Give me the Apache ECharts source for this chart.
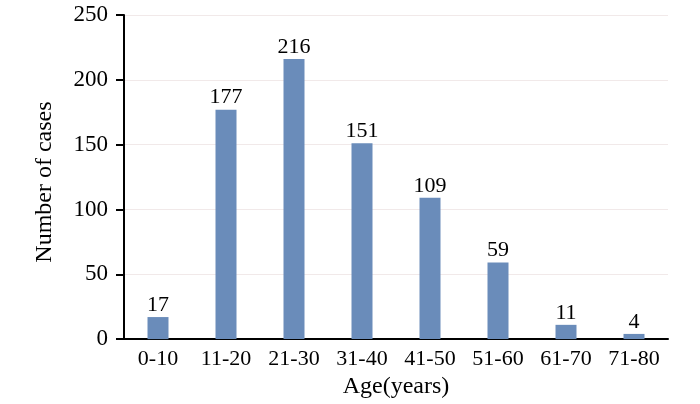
<!DOCTYPE html>
<html><head><meta charset="utf-8">
<script src="https://cdn.jsdelivr.net/npm/echarts@6/dist/echarts.min.js"></script>
<style>html,body{margin:0;padding:0;background:#fff}#c{width:700px;height:404px}</style>
</head><body><div id="c"></div>
<script>
var categories = ['0-10','11-20','21-30','31-40','41-50','51-60','61-70','71-80'];
var cases = [17,177,216,151,109,59,11,4];
var yTicks = [0,50,100,150,200,250];

var font = '"Liberation Serif","Times New Roman",serif';
var chart = echarts.init(document.getElementById('c'));
chart.setOption({
  animation:false,
  grid:{left:124,right:32,top:15,bottom:61,containLabel:false},
  xAxis:{type:'category',data:categories,
    name:'Age(years)',nameLocation:'middle',nameGap:32,
    nameTextStyle:{fontFamily:font,fontSize:24,color:'#000'},
    axisLine:{lineStyle:{color:'#000',width:2}},
    axisTick:{show:false},
    axisLabel:{fontFamily:font,fontSize:22,color:'#000',margin:9,interval:0}
  },
  yAxis:{type:'value',min:yTicks[0],max:yTicks[yTicks.length-1],interval:50,
    name:'Number of cases',nameLocation:'middle',nameGap:67,
    nameTextStyle:{fontFamily:font,fontSize:24,color:'#000',padding:[0,10,0,0]},
    axisLine:{show:true,lineStyle:{color:'#000',width:2}},
    axisTick:{show:true,length:8,lineStyle:{color:'#000',width:2}},
    axisLabel:{fontFamily:font,fontSize:23,color:'#000',margin:16},
    splitLine:{lineStyle:{color:'#f1e9e9',width:1}}
  },
  series:[{type:'bar',data:cases,barWidth:21,
    itemStyle:{color:'#6a8cba'},
    label:{show:true,position:'top',fontFamily:font,fontSize:22,color:'#000',distance:1}
  }]
});
</script></body></html>
